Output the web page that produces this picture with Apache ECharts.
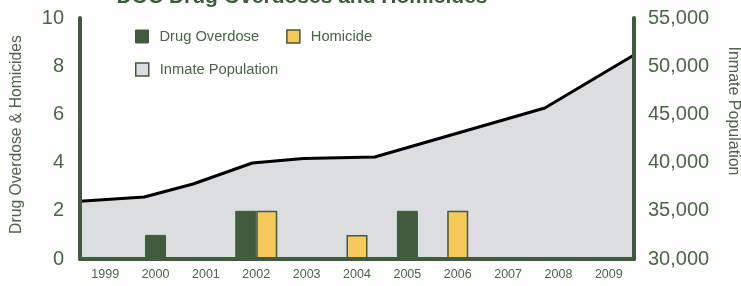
<!DOCTYPE html>
<html>
<head>
<meta charset="utf-8">
<script src="https://cdn.jsdelivr.net/npm/echarts@6/dist/echarts.min.js"></script>
<style>
  html, body { margin: 0; padding: 0; background: #fff; }
  #chart { width: 741px; height: 286px; }
</style>
</head>
<body>
<div id="chart"></div>
<script>
// categories
const years = ['1999', '2000', '2001', '2002', '2003', '2004', '2005', '2006', '2007', '2008', '2009']
// deaths per year
const drugOverdose = [0, 1, 0, 2, 0, 0, 2, 0, 0, 0, 0]
const homicides = [0, 0, 0, 2, 0, 1, 0, 2, 0, 0, 0]
// inmate population line vertices (year position, population)
const popYears = [1999, 2000.16, 2001.04, 2002.11, 2003.03, 2004.32, 2007.39, 2009]
const population = [36000, 36430, 37780, 39960, 40430, 40580, 45660, 51160]
// tick labels
const leftTicks = [0, 2, 4, 6, 8, 10]
const rightTicks = [30000, 35000, 40000, 45000, 50000, 55000]

const GREEN = '#425a3e'
const TEXT = '#4b6547'
const YELLOW = '#f7c95a'
const GRAY = '#dcdde1'

// years with both kinds of death get a bar pair, other years get one centred bar
const isPair = years.map((y, i) => drugOverdose[i] > 0 && homicides[i] > 0)
const soloDrug = drugOverdose.map((v, i) => (!isPair[i] && v > 0) ? v : '-')
const soloHom = homicides.map((v, i) => (!isPair[i] && v > 0) ? v : '-')
const pairDrug = drugOverdose.map((v, i) => isPair[i] ? v : '-')
const pairHom = homicides.map((v, i) => isPair[i] ? v : '-')

const chart = echarts.init(document.getElementById('chart'))

const font = 'Liberation Sans, Arial, sans-serif'

chart.setOption({
  animation: false,
  textStyle: { fontFamily: font },
  grid: { left: 80, right: 107, top: 18, bottom: 27 },
  graphic: [
    {
      type: 'text',
      style: {
        text: 'DOC Drug Overdoses and Homicides',
        x: 302, y: -3,
        align: 'center', verticalAlign: 'middle',
        font: 'bold 21px ' + font,
        fill: '#3d5a3a'
      }
    },
    {
      type: 'text',
      rotation: -Math.PI / 2,
      x: 733, y: 111,
      style: {
        text: 'Inmate Population',
        align: 'center', verticalAlign: 'middle',
        font: '16px ' + font,
        fill: TEXT
      }
    }
  ],
  legend: [
    {
      left: 130, top: 24,
      itemWidth: 13, itemHeight: 13, itemGap: 27,
      textStyle: { fontSize: 14.7, color: TEXT, padding: [0, 0, 0, 6] },
      data: [
        { name: 'Drug Overdose', icon: 'rect', itemStyle: { color: GREEN, borderColor: GREEN, borderWidth: 1 } },
        { name: 'Homicide', icon: 'rect', itemStyle: { color: YELLOW, borderColor: GREEN, borderWidth: 1.5 } }
      ]
    },
    {
      left: 130, top: 57,
      itemWidth: 13, itemHeight: 13,
      textStyle: { fontSize: 14.7, color: TEXT, padding: [0, 0, 0, 6] },
      data: [
        { name: 'Inmate Population', icon: 'rect', itemStyle: { color: GRAY, borderColor: GREEN, borderWidth: 1.5 } }
      ]
    }
  ],
  xAxis: [
    {
      type: 'category',
      data: years,
      z: 10,
      axisLine: { lineStyle: { color: GREEN, width: 4 } },
      axisTick: { show: false },
      axisLabel: { color: TEXT, fontSize: 12.5, margin: 9 }
    },
    {
      type: 'category',
      data: years,
      show: false
    },
    {
      type: 'value',
      min: 1999,
      max: 2009,
      show: false
    }
  ],
  yAxis: [
    {
      type: 'value',
      min: leftTicks[0],
      max: leftTicks[leftTicks.length - 1],
      interval: 2,
      z: 10,
      name: 'Drug Overdose & Homicides',
      nameLocation: 'middle',
      nameGap: 55,
      nameTextStyle: { color: TEXT, fontSize: 15.7, padding: [0, 0, 0, 8] },
      axisLine: { show: true, lineStyle: { color: GREEN, width: 4 } },
      axisTick: { show: false },
      splitLine: { show: false },
      axisLabel: { color: TEXT, fontSize: 20, margin: 16 }
    },
    {
      type: 'value',
      min: rightTicks[0],
      max: rightTicks[rightTicks.length - 1],
      interval: 5000,
      z: 10,
      position: 'right',
      axisLine: { show: true, lineStyle: { color: GREEN, width: 4 } },
      axisTick: { show: false },
      splitLine: { show: false },
      axisLabel: {
        color: TEXT, fontSize: 20, margin: 14,
        formatter: v => v.toLocaleString('en-US')
      }
    }
  ],
  series: [
    {
      name: 'Inmate Population',
      type: 'line',
      xAxisIndex: 2,
      yAxisIndex: 1,
      z: 1,
      symbol: 'none',
      data: popYears.map((x, i) => [x, population[i]]),
      lineStyle: { color: '#000', width: 3 },
      itemStyle: { color: GRAY },
      areaStyle: { color: GRAY, opacity: 1, origin: 'start' }
    },
    {
      name: 'Drug Overdose',
      type: 'bar',
      stack: 'solo',
      barWidth: 21,
      data: soloDrug,
      itemStyle: { color: GREEN, borderColor: GREEN, borderWidth: 1 }
    },
    {
      name: 'Homicide',
      type: 'bar',
      stack: 'solo',
      barWidth: 21,
      data: soloHom,
      itemStyle: { color: YELLOW, borderColor: GREEN, borderWidth: 1.5 }
    },
    {
      name: 'Drug Overdose',
      type: 'bar',
      xAxisIndex: 1,
      barWidth: 21,
      barGap: 0,
      data: pairDrug,
      itemStyle: { color: GREEN, borderColor: GREEN, borderWidth: 1 }
    },
    {
      name: 'Homicide',
      type: 'bar',
      xAxisIndex: 1,
      barWidth: 21,
      barGap: 0,
      data: pairHom,
      itemStyle: { color: YELLOW, borderColor: GREEN, borderWidth: 1.5 }
    }
  ]
})

window.addEventListener('resize', function () {
  chart.resize()
})
</script>
</body>
</html>
